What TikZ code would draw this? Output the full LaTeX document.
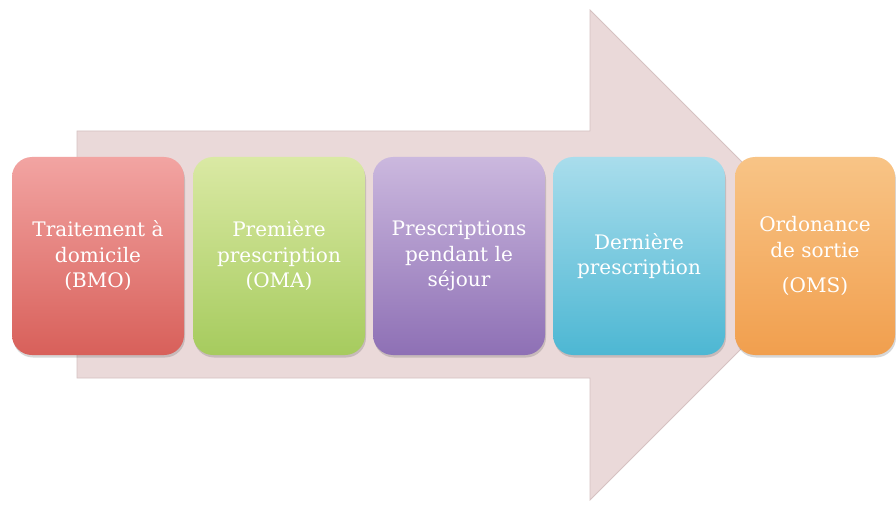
\documentclass[tikz,border=0pt]{standalone}
\usepackage{fontspec}
\setmainfont{DejaVu Serif}
\usetikzlibrary{shadows}
\definecolor{arrowfill}{HTML}{EAD9D9}
\definecolor{arrowline}{HTML}{D6C2C2}
\definecolor{redtop}{HTML}{F2A4A2}
\definecolor{redbot}{HTML}{D8605A}
\definecolor{greentop}{HTML}{DAE9A4}
\definecolor{greenbot}{HTML}{A6CB5E}
\definecolor{purptop}{HTML}{CBB8DE}
\definecolor{purpbot}{HTML}{8E70B5}
\definecolor{bluetop}{HTML}{A9DDEC}
\definecolor{bluebot}{HTML}{4DB7D3}
\definecolor{orgtop}{HTML}{F8C486}
\definecolor{orgbot}{HTML}{F19F4E}
\begin{document}
\begin{tikzpicture}[x=1pt,y=-1pt,
  stepbox/.style={rounded corners=20pt, minimum width=172pt, minimum height=198pt,
    inner sep=0pt, text=white, align=center,
    font=\fontsize{20}{25.5}\selectfont,
    drop shadow={shadow xshift=1pt, shadow yshift=-2.5pt, opacity=0.22, fill=black!70}},
]
\useasboundingbox (0,0) rectangle (896,505);
\fill[white] (0,0) rectangle (896,505);
% big arrow
\draw[fill=arrowfill, draw=arrowline, line width=0.8pt, line join=miter]
  (77,131) -- (590,131) -- (590,10) -- (835,255) -- (590,500) -- (590,378) -- (77,378) -- cycle;
% steps
\node[stepbox, top color=redtop, bottom color=redbot] (s1) at (98,256)
  {Traitement à\\domicile\\(BMO)};
\node[stepbox, top color=greentop, bottom color=greenbot] (s2) at (279,256)
  {Première\\prescription\\(OMA)};
\node[stepbox, top color=purptop, bottom color=purpbot] (s3) at (459,256)
  {Prescriptions\\pendant le\\séjour};
\node[stepbox, top color=bluetop, bottom color=bluebot] (s4) at (639,256)
  {Dernière\\prescription};
\node[stepbox, minimum width=160pt, top color=orgtop, bottom color=orgbot] (s5) at (815,256)
  {Ordonance\\de sortie\\[10pt](OMS)};
\end{tikzpicture}
\end{document}
